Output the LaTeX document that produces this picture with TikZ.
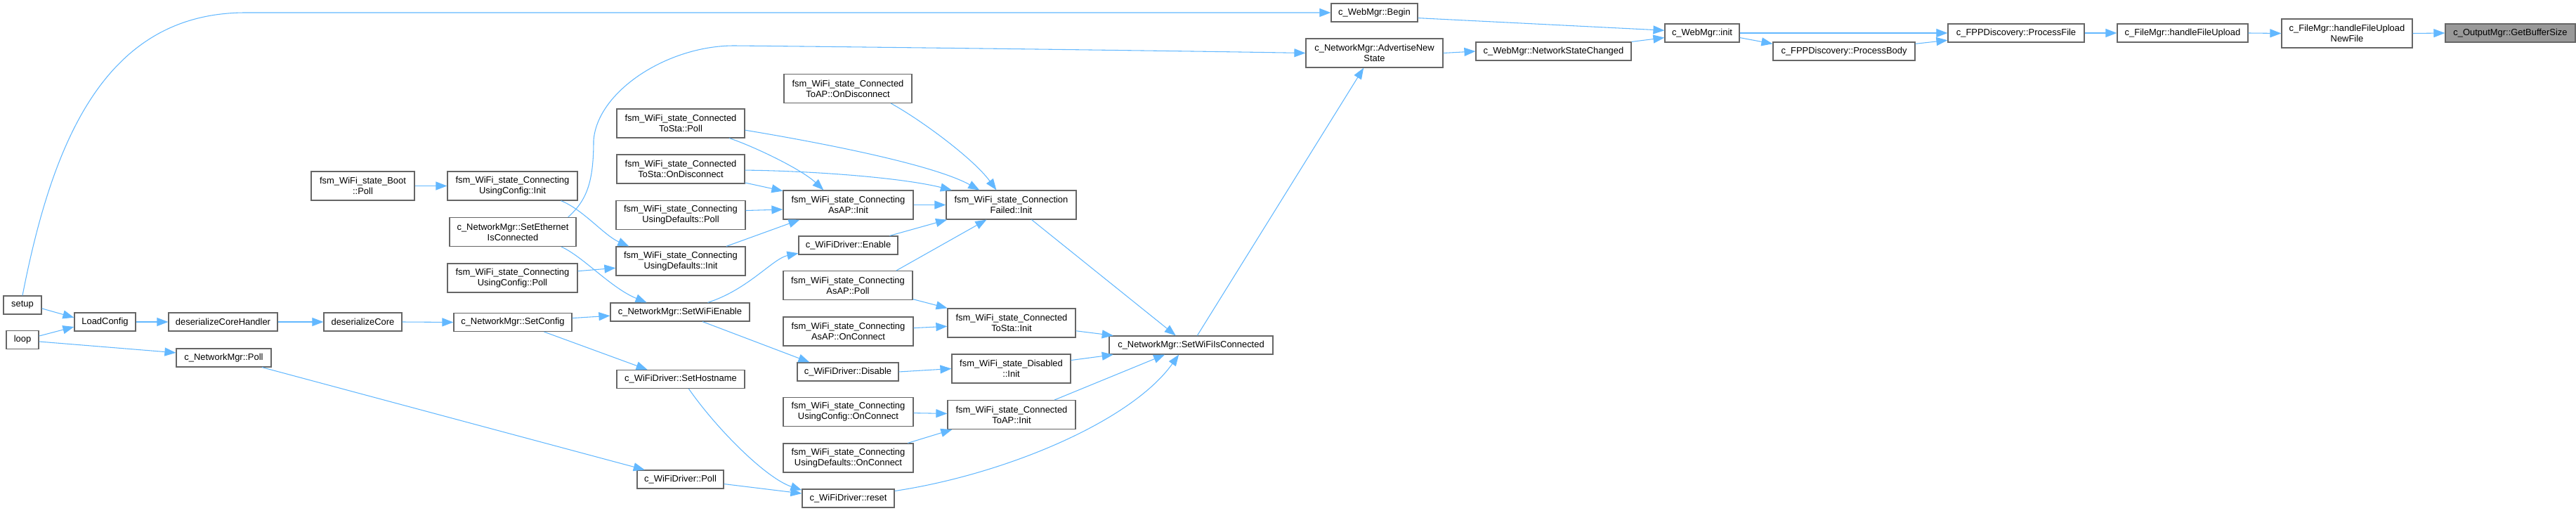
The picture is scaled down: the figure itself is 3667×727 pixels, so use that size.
\documentclass[tikz,border=0pt]{standalone}
\usepackage{fontspec}
\setmainfont{Liberation Sans}
\usetikzlibrary{arrows.meta}
\definecolor{edgeblue}{HTML}{63B8FF}
\definecolor{boxgray}{HTML}{666666}
\definecolor{fillgray}{HTML}{999999}
\tikzset{
  box/.style={draw=boxgray, fill=white, line width=0.9pt, inner sep=0pt, align=center,
    font=\fontsize{9.7pt}{11.3pt}\selectfont, text=black},
  edge/.style={draw=edgeblue, line width=0.8pt, -{Triangle[length=12pt,width=9pt]}},
}
\newcommand{\mkbox}[7][]{\node[box,#1,minimum width=#5*0.75pt,minimum height=#6*0.75pt] (#2) at (#3,#4) {#7};}
\begin{document}
\begin{tikzpicture}[x=0.75pt,y=-0.75pt]
\useasboundingbox (0,0) rectangle (3667,727);
\mkbox[fill=fillgray]{gbs}{3573.5}{47}{185}{26}{c\_OutputMgr::GetBufferSize}
\mkbox{hfun}{3341}{47.5}{186}{41}{c\_FileMgr::handleFileUpload\\NewFile}
\mkbox{hfu}{3107}{47}{186}{26}{c\_FileMgr::handleFileUpload}
\mkbox{pf}{2870}{47}{194}{26}{c\_FPPDiscovery::ProcessFile}
\mkbox{pb}{2625}{73}{202}{26}{c\_FPPDiscovery::ProcessBody}
\mkbox{wi}{2423}{47}{106}{26}{c\_WebMgr::init}
\mkbox{nsc}{2211.5}{73}{221}{26}{c\_WebMgr::NetworkStateChanged}
\mkbox{wb}{1956.5}{18}{123}{26}{c\_WebMgr::Begin}
\mkbox{ans}{1956.5}{75.5}{195}{41}{c\_NetworkMgr::AdvertiseNew\\State}
\mkbox{swic}{1695.5}{491}{233}{26}{c\_NetworkMgr::SetWiFiIsConnected}
\mkbox{cfi}{1439.5}{291.5}{185}{41}{fsm\_WiFi\_state\_Connection\\Failed::Init}
\mkbox{ctsi}{1440}{459.5}{182}{41}{fsm\_WiFi\_state\_Connected\\ToSta::Init}
\mkbox{di}{1439.5}{524.5}{169}{41}{fsm\_WiFi\_state\_Disabled\\::Init}
\mkbox{ctai}{1440}{590}{182}{41}{fsm\_WiFi\_state\_Connected\\ToAP::Init}
\mkbox{ctaod}{1207}{126}{182}{41}{fsm\_WiFi\_state\_Connected\\ToAP::OnDisconnect}
\mkbox{caai}{1207.5}{291.5}{185}{41}{fsm\_WiFi\_state\_Connecting\\AsAP::Init}
\mkbox{wde}{1207.5}{349}{141}{26}{c\_WiFiDriver::Enable}
\mkbox{caap}{1207}{406}{184}{41}{fsm\_WiFi\_state\_Connecting\\AsAP::Poll}
\mkbox{caaoc}{1207.5}{471.5}{185}{41}{fsm\_WiFi\_state\_Connecting\\AsAP::OnConnect}
\mkbox{wdd}{1207}{529}{144}{26}{c\_WiFiDriver::Disable}
\mkbox{cucoc}{1207.5}{586}{185}{41}{fsm\_WiFi\_state\_Connecting\\UsingConfig::OnConnect}
\mkbox{cudoc}{1207.5}{651.5}{185}{41}{fsm\_WiFi\_state\_Connecting\\UsingDefaults::OnConnect}
\mkbox{wdr}{1207.5}{709}{131}{26}{c\_WiFiDriver::reset}
\mkbox{ctsp}{969}{175.5}{182}{41}{fsm\_WiFi\_state\_Connected\\ToSta::Poll}
\mkbox{ctsod}{969}{240.5}{182}{41}{fsm\_WiFi\_state\_Connected\\ToSta::OnDisconnect}
\mkbox{cudp}{969}{306}{184}{41}{fsm\_WiFi\_state\_Connecting\\UsingDefaults::Poll}
\mkbox{cudi}{969}{371.5}{184}{41}{fsm\_WiFi\_state\_Connecting\\UsingDefaults::Init}
\mkbox{swe}{968}{444}{198}{26}{c\_NetworkMgr::SetWiFiEnable}
\mkbox{sh}{969}{539.5}{182}{26}{c\_WiFiDriver::SetHostname}
\mkbox{wdp}{968.5}{682}{123}{26}{c\_WiFiDriver::Poll}
\mkbox{cuci}{729.5}{264.5}{185}{41}{fsm\_WiFi\_state\_Connecting\\UsingConfig::Init}
\mkbox{seic}{730}{330}{180}{41}{c\_NetworkMgr::SetEthernet\\IsConnected}
\mkbox{cucp}{729.5}{395.5}{185}{41}{fsm\_WiFi\_state\_Connecting\\UsingConfig::Poll}
\mkbox{sc}{730}{458.5}{168}{26}{c\_NetworkMgr::SetConfig}
\mkbox{bp}{516.5}{264.5}{147}{41}{fsm\_WiFi\_state\_Boot\\::Poll}
\mkbox{dc}{516.5}{458}{111}{26}{deserializeCore}
\mkbox{dch}{317.5}{458}{155}{26}{deserializeCoreHandler}
\mkbox{nmp}{318.5}{509}{135}{26}{c\_NetworkMgr::Poll}
\mkbox{lc}{149.5}{458}{87}{26}{LoadConfig}
\mkbox{setup}{32}{434}{54}{26}{setup}
\mkbox{loop}{32}{483.5}{46}{26}{loop}

\draw[edge] (hfun.east) -- (gbs.west);
\draw[edge] (hfu.east) -- (hfun.west);
\draw[edge] (pf.east) -- (hfu.west);
\draw[edge] (wi.east) -- (pf.west);
\draw[edge] (wi.-7.5) -- (pb.174);
\draw[edge] (pb.6) -- (pf.186.5);
\draw[edge] (wb.-7.4) -- (wi.176);
\draw[edge] (nsc.north east) -- (wi.187.5);
\draw[edge] (ans.east) -- (nsc.west);
\draw[edge] (setup.north) .. controls (75,200) and (150,18) .. (350,18) -- (wb.west);
\draw[edge] (swic.57) -- (ans.234);
\draw[edge] (seic.15) .. controls (835,285) and (845,260) .. (845,200) .. controls (850,130) and (950,65) .. (1045,65) .. controls (1250,67) and (1650,72) .. (ans.west);
\draw[edge] (cfi.-36) -- (swic.148);
\draw[edge] (ctsi.-7) -- (swic.173);
\draw[edge] (di.8) -- (swic.187);
\draw[edge] (ctai.19) -- (swic.200);
\draw[edge] (wdr.9) .. controls (1430,675) and (1610,600) .. (swic.218);
\draw[edge] (ctaod.-19) .. controls (1310,170) and (1385,225) .. (cfi.135);
\draw[edge] (ctsp.-6) .. controls (1180,205) and (1330,235) .. (cfi.155);
\draw[edge] (ctsod.-1) .. controls (1150,243) and (1280,252) .. (cfi.166);
\draw[edge] (caai.east) -- (cfi.west);
\draw[edge] (wde.13) -- (cfi.193);
\draw[edge] (caap.17) -- (cfi.211);
\draw[edge] (ctsp.-17.5) .. controls (1070,207) and (1140,240) .. (caai.149.5);
\draw[edge] (ctsod.-12) -- (caai.168);
\draw[edge] (cudp.4) -- (caai.184);
\draw[edge] (cudi.18) -- (caai.197.5);
\draw[edge] (swe.19) .. controls (1065,412) and (1100,368) .. (wde.189);
\draw[edge] (swe.-23) -- (wdd.166);
\draw[edge] (cuci.-17) .. controls (830,298) and (860,335) .. (cudi.164.5);
\draw[edge] (seic.-17.6) .. controls (830,365) and (870,410) .. (swe.164);
\draw[edge] (cucp.6) -- (cudi.186.5);
\draw[edge] (sc.4) -- (swe.183);
\draw[edge] (sc.-17) -- (sh.164);
\draw[edge] (sh.-50) .. controls (1020,610) and (1090,680) .. (wdr.170);
\draw[edge] (wdp.-6.5) -- (wdr.174);
\draw[edge] (nmp.-14) -- (wdp.165);
\draw[edge] (bp.east) -- (cuci.west);
\draw[edge] (dc.east) -- (sc.west);
\draw[edge] (dch.east) -- (dc.west);
\draw[edge] (lc.east) -- (dch.west);
\draw[edge] (setup.-10.5) -- (lc.172);
\draw[edge] (loop.13) -- (lc.189);
\draw[edge] (loop.-6) -- (nmp.174);
\draw[edge] (caap.-12) -- (ctsi.167);
\draw[edge] (caaoc.3.4) -- (ctsi.183);
\draw[edge] (wdd.east) -- (di.west);
\draw[edge] (cucoc.-1) -- (ctai.179);
\draw[edge] (cudoc.14.5) -- (ctai.194);
\end{tikzpicture}
\end{document}
